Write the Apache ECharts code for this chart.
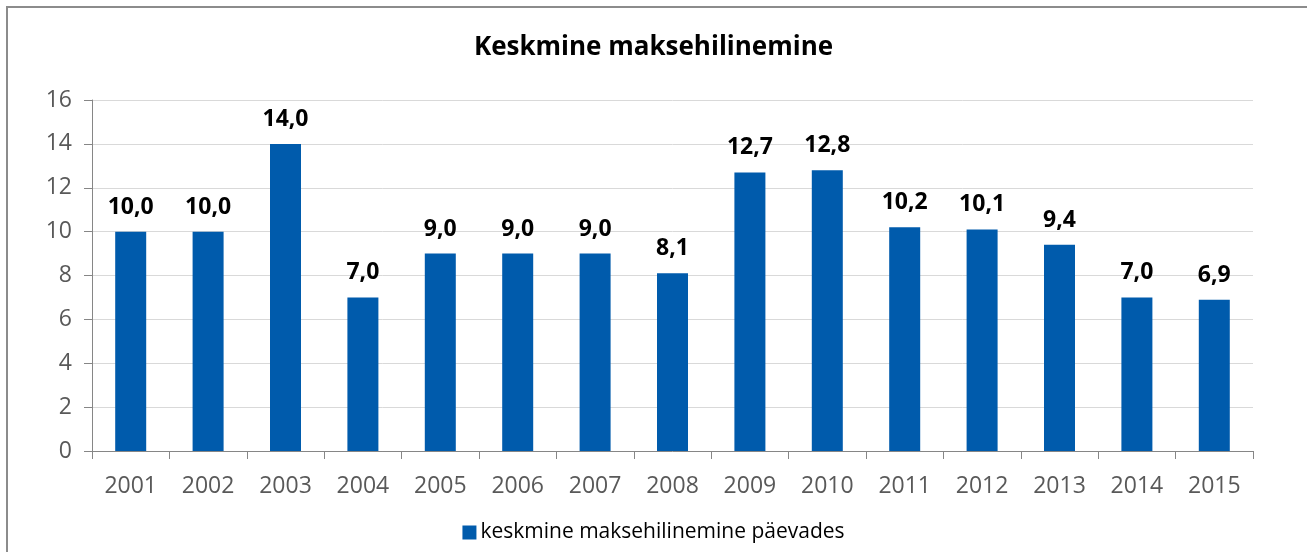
<!DOCTYPE html>
<html>
<head>
<meta charset="utf-8">
<script src="https://cdn.jsdelivr.net/npm/echarts@6/dist/echarts.min.js"></script>
<style>
  html, body { margin: 0; padding: 0; background: #fff; overflow: hidden; }
  #frame { position: absolute; left: 6px; top: 6px; width: 1400px; height: 600px; border: 2px solid #8c8c8c; box-sizing: border-box; }
  #chart { position: absolute; left: 0; top: 0; width: 1307px; height: 552px; }
</style>
</head>
<body>
<div id="frame"></div>
<div id="chart"></div>
<script>
const years = ['2001', '2002', '2003', '2004', '2005', '2006', '2007', '2008', '2009', '2010', '2011', '2012', '2013', '2014', '2015'];
const delayDays = [10.0, 10.0, 14.0, 7.0, 9.0, 9.0, 9.0, 8.1, 12.7, 12.8, 10.2, 10.1, 9.4, 7.0, 6.9];
const seriesName = 'keskmine maksehilinemine päevades';

const chart = echarts.init(document.getElementById('chart'));
const fontFamily = '"Open Sans", sans-serif';

chart.setOption({
    animation: false,
    title: {
        text: 'Keskmine maksehilinemine',
        left: 'center',
        top: 30,
        textStyle: { fontFamily, fontSize: 26, fontWeight: 'bold', color: '#000' }
    },
    legend: {
        bottom: 4,
        left: 'center',
        itemWidth: 14,
        itemHeight: 14,
        icon: 'rect',
        itemGap: 6,
        textStyle: { fontFamily, fontSize: 21, color: '#000', padding: [0, 0, 0, -1] },
        data: [seriesName]
    },
    grid: { left: 92, right: 54, top: 100, bottom: 101, containLabel: false },
    xAxis: {
        type: 'category',
        data: years,
        axisLine: { lineStyle: { color: '#868686', width: 1 } },
        axisTick: { show: true, length: 8, lineStyle: { color: '#868686' } },
        axisLabel: { fontFamily, fontSize: 23, color: '#595959', margin: 24 }
    },
    yAxis: {
        type: 'value',
        min: 0,
        max: 16,
        interval: 2,
        axisLine: { show: true, lineStyle: { color: '#868686', width: 1 } },
        axisTick: { show: true, length: 8, lineStyle: { color: '#868686' } },
        axisLabel: { fontFamily, fontSize: 23, color: '#595959', margin: 20 },
        splitLine: { lineStyle: { color: '#d9d9d9', width: 1 } }
    },
    series: [{
        name: seriesName,
        type: 'bar',
        data: delayDays,
        barWidth: 31,
        itemStyle: { color: '#005bac' },
        label: {
            show: true,
            position: 'top',
            distance: 13,
            fontFamily,
            fontSize: 23,
            fontWeight: 'bold',
            color: '#000',
            formatter: p => p.value.toFixed(1).replace('.', ',')
        }
    }]
});
</script>
</body>
</html>
